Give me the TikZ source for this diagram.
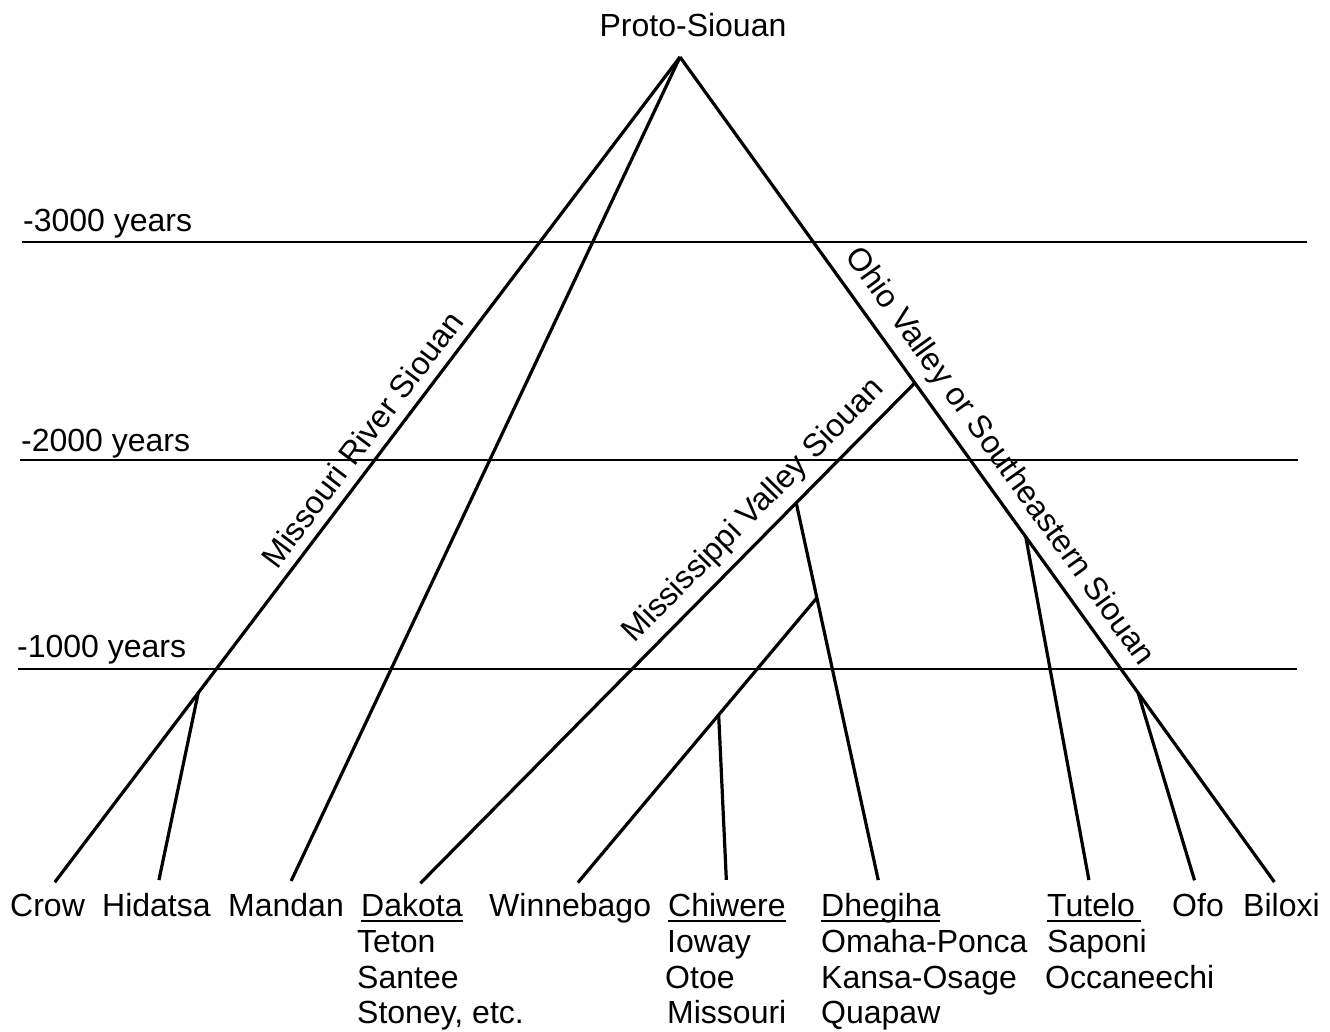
\documentclass[tikz,border=0pt]{standalone}
\usepackage{fontspec}
\setmainfont{Liberation Sans}
\usetikzlibrary{calc}
\newcommand\ulin[2][0pt]{\setbox0\hbox{#2}\rlap{\rule[-6pt]{\dimexpr\wd0+#1\relax}{1.8pt}}\box0}
\begin{document}
\begin{tikzpicture}[x=1pt,y=-1pt,
  lbl/.style={inner sep=0pt, font=\fontsize{32}{37}\selectfont},
  leaf/.style={lbl, anchor=base west, text height=24pt, text depth=0pt},
  sub/.style={lbl, anchor=base west},
  conn/.style={draw, line width=3.2pt, shorten >=12pt},
  tline/.style={line width=2.8pt}]
\useasboundingbox (0,0) rectangle (1330,1032);

% title and apex
\node[lbl, anchor=base] (proto) at (693,37) {Proto-Siouan};
\coordinate (apex) at (680,57);

% time lines
\node[lbl, anchor=base west] (y3) at (23,232) {-3000 years};
\node[lbl, anchor=base west] (y2) at (21,451) {-2000 years};
\node[lbl, anchor=base west] (y1) at (17,657) {-1000 years};
\draw[tline] (22,242) -- (1307,242);
\draw[tline] (20,460) -- (1298,460);
\draw[tline] (18,669) -- (1297,669);

% leaves
\node[leaf] (crow) at (10,916) {Crow};
\node[leaf] (hidatsa) at (102,916) {Hidatsa};
\node[leaf] (mandan) at (228,916) {Mandan};
\node[leaf] (dakota) at (361,916) {\ulin{Dakota}};
\node[sub] (teton) at (357,952) {Teton};
\node[sub] (santee) at (357,988) {Santee};
\node[sub] (stoney) at (357,1023) {Stoney, etc.};
\node[leaf] (winnebago) at (489,916) {Winnebago};
\node[leaf] (chiwere) at (668,916) {\ulin{Chiwere}};
\node[sub] (ioway) at (667,952) {Ioway};
\node[sub] (otoe) at (665,988) {Otoe};
\node[sub] (missouri) at (667,1023) {Missouri};
\node[leaf] (dhegiha) at (821,916) {\ulin{Dhegiha}};
\node[sub] (omaha) at (821,952) {Omaha-Ponca};
\node[sub] (kansa) at (821,988) {Kansa-Osage};
\node[sub] (quapaw) at (821,1023) {Quapaw};
\node[leaf] (tutelo) at (1047,916) {\ulin[6pt]{Tutelo}};
\node[sub] (saponi) at (1047,952) {Saponi};
\node[sub] (occaneechi) at (1045,988) {Occaneechi};
\node[leaf] (ofo) at (1172,916) {Ofo};
\node[leaf] (biloxi) at (1243,916) {Biloxi};

% main branches
\draw[conn] (apex) -- (crow.north);
\draw[conn] (apex) -- (mandan.north);
\draw[conn] (apex) -- (biloxi.north);

% junctions
\coordinate (hj) at ($(apex)!0.7617!(crow.north)$);
\coordinate (mvj) at ($(apex)!0.3904!(biloxi.north)$);
\coordinate (tj) at ($(apex)!0.5749!(biloxi.north)$);
\coordinate (oj) at ($(apex)!0.7617!(biloxi.north)$);

\draw[conn] (hj) -- (hidatsa.north);
\draw[conn] (mvj) -- (dakota.north);
\coordinate (dj) at ($(mvj)!0.2358!(dakota.north)$);
\draw[conn] (dj) -- (dhegiha.north);
\coordinate (wj) at ($(dj)!0.2442!(dhegiha.north)$);
\draw[conn] (wj) -- (winnebago.north);
\coordinate (cj) at ($(wj)!0.398!(winnebago.north)$);
\draw[conn] (cj) -- (chiwere.north);
\draw[conn] (tj) -- (tutelo.north);
\draw[conn] (oj) -- (ofo.north);

% group labels
\node[lbl, rotate=52.9] (mrs) at (362,439) {Missouri River Siouan};
\node[lbl, rotate=45.4] (mvs) at (754,511) {Mississippi Valley Siouan};
\node[lbl, rotate=-54.3] (ovs) at (999,457) {Ohio Valley or Southeastern Siouan};
\end{tikzpicture}
\end{document}
